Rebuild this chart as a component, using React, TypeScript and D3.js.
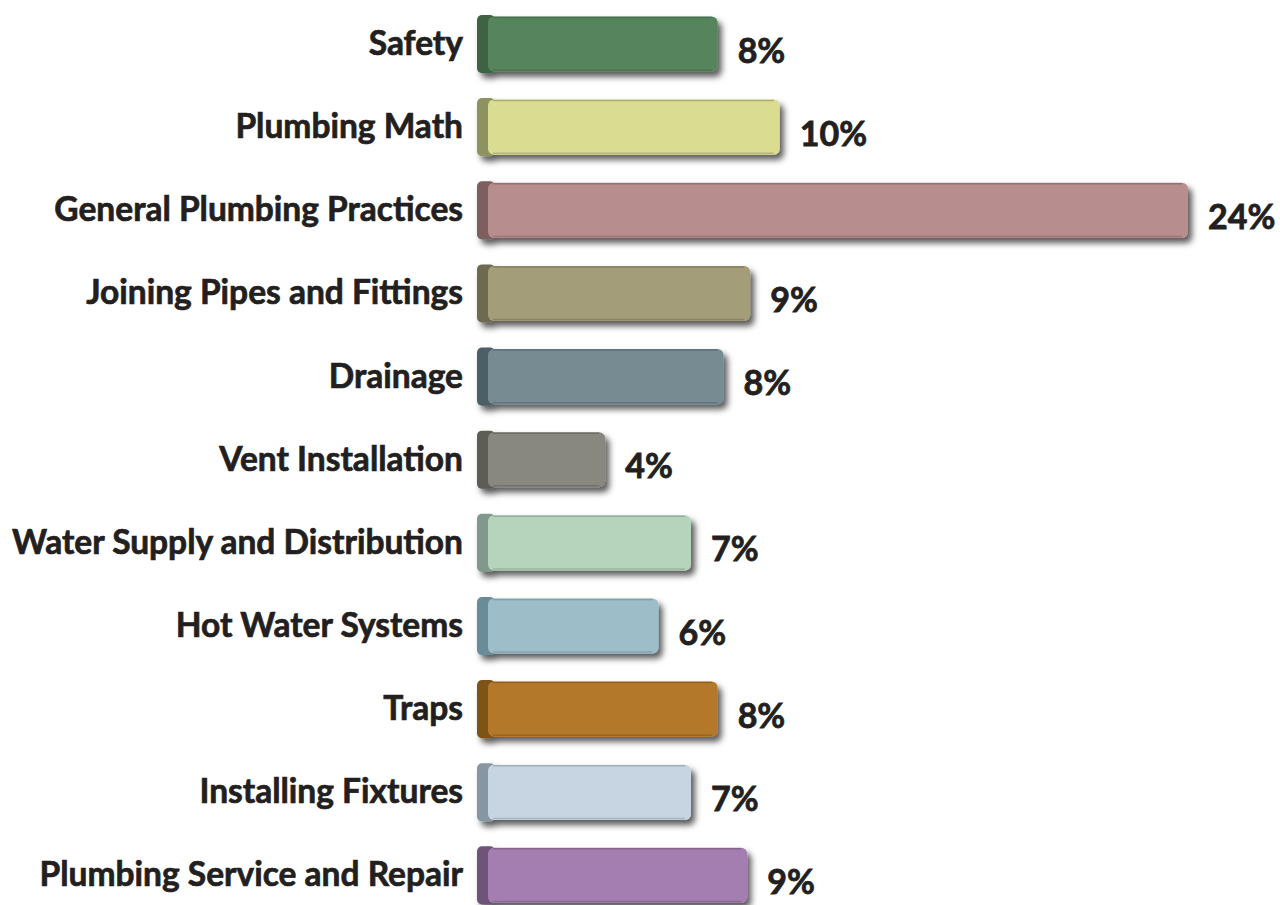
import React from "react";
import * as d3 from "d3";

const categories = [
  "Safety",
  "Plumbing Math",
  "General Plumbing Practices",
  "Joining Pipes and Fittings",
  "Drainage",
  "Vent Installation",
  "Water Supply and Distribution",
  "Hot Water Systems",
  "Traps",
  "Installing Fixtures",
  "Plumbing Service and Repair",
];
const values = [8.1, 10.2, 24, 9.2, 8.3, 4.3, 7.2, 6.1, 8.1, 7.2, 9.1];
const valueLabels = ["8%", "10%", "24%", "9%", "8%", "4%", "7%", "6%", "8%", "7%", "9%"];
const faceColors = [
  "#57845C", "#DADC91", "#B78E8D", "#A49D79", "#778B93", "#888780",
  "#B6D3BB", "#9DBDC9", "#B47829", "#C7D4E1", "#A57EB1",
];
const sideColors = [
  "#3C6442", "#8E9161", "#7D5E5E", "#6E6A50", "#4E5F66", "#5D5D57",
  "#80998A", "#6A8C99", "#7D5219", "#8796A3", "#6F5379",
];

const W = 1280;
const H = 905;
const X0 = 478;

export default function App() {
  const x = d3.scaleLinear().domain([0, 24]).range([X0, 1188]);
  const y = d3
    .scaleBand<string>()
    .domain(categories)
    .range([2.5, 917])
    .paddingInner(0.3)
    .paddingOuter(0.15);
  const font = "Lato, 'Open Sans', sans-serif";
  return (
    <svg
      width={W}
      height={H}
      style={{ position: "absolute", left: 0, top: 0, background: "#fff" }}
    >
      <defs>
        <filter id="shadow" x="-10%" y="-30%" width="125%" height="180%">
          <feDropShadow dx="4" dy="5" stdDeviation="3" floodColor="#000" floodOpacity="0.65" />
        </filter>
      </defs>
      {categories.map((c, i) => {
        const y0 = y(c)!;
        const bh = y.bandwidth();
        const xe = x(values[i]);
        const cy = y0 + bh / 2;
        return (
          <g key={c}>
            <g filter="url(#shadow)">
              <rect x={X0 - 1} y={y0} width={18} height={bh} rx={5} fill={sideColors[i]} />
              <rect x={X0 + 10} y={y0 + 1.5} width={xe - X0 - 10} height={bh - 3} rx={6} fill={faceColors[i]} />
            </g>
            <line
              x1={X0 + 15}
              x2={xe - 6}
              y1={y0 + 2.5}
              y2={y0 + 2.5}
              stroke={sideColors[i]}
              strokeOpacity={0.6}
              strokeWidth={1.5}
            />
            <line
              x1={X0 + 15}
              x2={xe - 6}
              y1={y0 + bh - 3}
              y2={y0 + bh - 3}
              stroke={sideColors[i]}
              strokeOpacity={0.5}
              strokeWidth={1.5}
            />
            <text
              x={463}
              y={cy - 2}
              textAnchor="end"
              dominantBaseline="central"
              fontFamily={font}
              fontWeight={700}
              fontSize={33.5}
              fill="#231F20"
              stroke="#231F20"
              strokeWidth={0.7}
            >
              {c}
            </text>
            <text
              x={xe + 20}
              y={cy + 5}
              textAnchor="start"
              dominantBaseline="central"
              fontFamily={font}
              fontWeight={700}
              fontSize={34}
              fill="#231F20"
              stroke="#231F20"
              strokeWidth={0.8}
            >
              {valueLabels[i]}
            </text>
          </g>
        );
      })}
    </svg>
  );
}
